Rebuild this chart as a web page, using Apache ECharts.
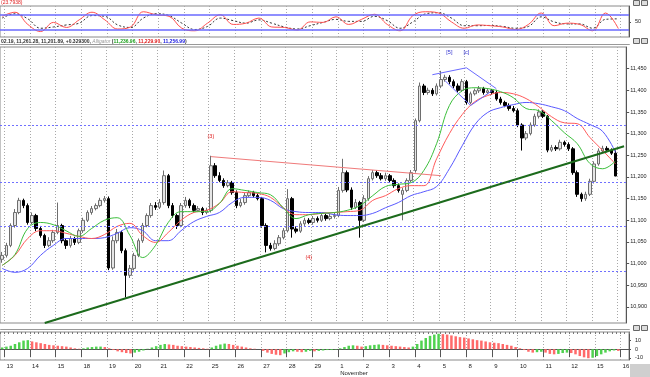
<!DOCTYPE html>
<html>
<head>
<meta charset="utf-8">
<script src="https://cdn.jsdelivr.net/npm/echarts@6/dist/echarts.min.js"></script>
<style>
html,body{margin:0;padding:0;background:#fff;}
#chart{width:650px;height:377px;}
</style>
</head>
<body>
<div id="chart"></div>
<script>
// trading days shown on the time axis (6 bars per day)
var tradingDays = ['13','14','15','18','19','20','21','22','25','26','27','28','29','1','2','3','4','5','8','9','10','11','12','15','16'];
var barsPerDay = 6;

// price bars, index 0 = last bar of the previous day
var opens = [11010,11019,11042,11088,11118,11146,11134,11095,11111,11081,11065,11042,11053,11072,11088,11053,11042,11058,11049,11076,
  11100,11118,11127,11134,11146,11150,10990,11053,11072,11030,10973,10989,11019,11053,11088,11111,11134,11130,11141,11203,
  11134,11111,11088,11134,11146,11134,11123,11127,11118,11123,11226,11203,11192,11180,11187,11164,11134,11141,11157,11164,
  11157,11150,11088,11042,11035,11046,11060,11076,11150,11080,11075,11092,11100,11095,11104,11100,11111,11104,11109,11111,
  11169,11210,11170,11130,11141,11100,11150,11196,11210,11203,11196,11203,11192,11180,11160,11169,11192,11215,11330,11410,
  11395,11400,11392,11410,11425,11430,11420,11410,11400,11420,11372,11392,11399,11404,11395,11399,11395,11380,11372,11365,
  11358,11353,11320,11290,11300,11320,11340,11350,11340,11262,11268,11265,11280,11275,11265,11210,11160,11150,11160,11190,
  11230,11260,11266,11262,11255];
var closes = [11019,11042,11088,11118,11146,11134,11095,11111,11081,11065,11042,11053,11072,11088,11053,11042,11058,11049,11076,11100,
  11118,11127,11134,11146,11150,10990,11053,11072,11030,10973,10989,11019,11053,11088,11111,11134,11130,11141,11203,11134,
  11111,11088,11134,11146,11134,11123,11127,11118,11123,11226,11203,11192,11180,11187,11164,11134,11141,11157,11164,11157,
  11150,11088,11042,11035,11046,11060,11076,11150,11080,11075,11092,11100,11095,11104,11100,11111,11104,11109,11111,11169,
  11210,11170,11130,11141,11100,11150,11196,11210,11203,11196,11203,11192,11180,11169,11169,11192,11210,11330,11410,11395,
  11400,11392,11410,11425,11430,11420,11410,11400,11420,11372,11392,11399,11404,11395,11399,11395,11380,11372,11365,11358,
  11353,11320,11290,11300,11320,11340,11350,11340,11262,11268,11265,11280,11275,11265,11210,11160,11150,11160,11190,11230,
  11260,11266,11262,11255,11202.19];
var lows = [11002,11014,11038,11083,11114,11128,11090,11091,11075,11060,11036,11038,11048,11068,11047,11034,11037,11043,11045,11071,
  11096,11113,11123,11130,11141,10985,10986,11047,11024,10922,10967,10984,11015,11048,11084,11106,11124,11126,11136,11128,
  11106,11080,11084,11129,11128,11118,11119,11112,11114,11118,11198,11188,11175,11176,11159,11128,11130,11136,11153,11152,
  11146,11083,11026,11030,11031,11041,11056,11072,11060,11070,11071,11087,11091,11090,11095,11096,11099,11100,11104,11107,
  11164,11165,11124,11126,11060,11096,11145,11192,11198,11192,11191,11188,11175,11164,11100,11165,11188,11210,11326,11389,
  11390,11387,11388,11405,11420,11414,11405,11395,11396,11367,11368,11388,11394,11390,11391,11390,11376,11367,11361,11353,
  11349,11315,11261,11285,11296,11316,11335,11336,11257,11258,11260,11261,11270,11260,11205,11154,11143,11145,11156,11185,
  11226,11256,11257,11251,11201.89];
var highs = [11027,11048,11093,11126,11152,11150,11139,11118,11115,11087,11069,11061,11078,11141,11092,11058,11064,11062,11081,11106,
  11123,11133,11139,11152,11156,11155,11063,11080,11076,11035,10997,11025,11058,11094,11116,11140,11142,11149,11215,11207,
  11140,11115,11140,11154,11150,11139,11133,11131,11129,11249,11232,11211,11197,11193,11191,11169,11149,11163,11169,11168,
  11162,11154,11093,11048,11054,11066,11082,11172,11154,11086,11098,11106,11105,11110,11109,11117,11115,11115,11118,11177,
  11242,11215,11176,11149,11145,11158,11202,11216,11215,11209,11210,11207,11197,11185,11175,11197,11216,11335,11418,11415,
  11406,11405,11416,11445,11436,11435,11425,11416,11426,11424,11397,11404,11410,11408,11405,11403,11401,11385,11376,11370,
  11364,11358,11324,11306,11326,11346,11356,11354,11343,11274,11273,11286,11284,11280,11269,11215,11164,11166,11196,11236,
  11266,11272,11271,11266,11261.28];

// Alligator lines, sampled every 3 bars (lips green, teeth red, jaw blue)
var maStep = 3;
var lips = [10996,11021,11081,11095,11090,11076,11063,11081,11100,11106,11065,11014,11042,11095,11120,11120,11120,11139,11173,11169,
  11164,11159,11129,11104,11113,11116,11118,11123,11134,11157,11178,11183,11187,11215,11277,11365,11399,11406,11404,11397,
  11383,11358,11353,11330,11302,11277,11231,11219,11236.96];
var teeth = [10996,11019,11058,11076,11076,11070,11063,11058,11067,11086,11093,11065,11049,11072,11100,11118,11123,11139,11166,11164,
  11162,11153,11129,11113,11113,11116,11118,11120,11123,11146,11157,11173,11180,11180,11242,11300,11344,11374,11388,11395,
  11392,11381,11362,11339,11325,11323,11291,11261,11229.90];
var jaw = [10989,10980,10989,11019,11042,11058,11058,11058,11060,11070,11083,11076,11053,11053,11076,11097,11109,11118,11141,11153,
  11153,11146,11127,11120,11118,11118,11113,11111,11111,11116,11129,11141,11157,11166,11178,11219,11272,11321,11349,11360,
  11367,11372,11369,11362,11353,11335,11321,11305,11256.99];

// stochastic oscillator (top panel), sampled every 3 bars
var stochFast = [72,88,40,12,48,28,58,88,58,22,30,90,78,72,25,15,45,78,40,45,65,30,28,18,50,48,70,40,60,80,
  40,15,75,90,85,50,25,38,35,30,20,40,85,35,45,40,15,85,23.79];
var stochSlow = [65,82,62,25,30,38,45,75,72,38,28,65,82,75,45,20,32,65,55,45,58,45,30,22,35,48,60,52,52,72,
  55,25,50,82,86,65,35,35,36,32,25,32,70,50,42,42,25,60,62];

// histogram oscillator (bottom panel), one value per bar
var osc = [2,3,4,6,8,10,10.5,9,8,7,6,5,4.5,4,3.5,3,2,1,0.5,1,
  2,2.5,3,3,2.5,1,-1,-2.5,-3.5,-4.5,-5,-4,-3,-1.5,0.5,2,3.5,5,6,5.5,
  5,4,3.5,3,2.5,2,1.5,1,0.5,2,4,5.5,6.5,6,5,4,3,2,1,0.5,
  0,-2,-4,-5.5,-6.5,-7,-5,-3.5,-2.5,-3,-3.5,-3,-2,-2.5,-2,-1.5,-1,-1,-0.5,1,
  2.5,4,4.5,4,3,3.5,4.5,5,5.5,5,4.5,4,3.5,3,2.5,2,3,6,10,13,
  15.5,17,18,17.5,17,16,15,14,13.5,12.5,11.5,10.5,10,9,8,7.5,7,6,5,4,
  2.5,1,-1,-3,-4,-3.5,-3,-4,-5.5,-6,-5.5,-4.5,-4,-4.5,-6,-8,-9.5,-10.5,-10,-8,
  -6,-4,-2.5,-1.5,-2];

var priceTicks = [10900,10950,11000,11050,11100,11150,11200,11250,11300,11350,11400,11450];
var levelLines = [11319,11189,11086,10982];

// categories
var cats = ['12'];
var dayAt = {};
tradingDays.forEach(function(d, k){
  var n = k === tradingDays.length - 1 ? 2 : barsPerDay;
  dayAt[cats.length] = { day: d, month: d === '1' ? 'November' : '' };
  for (var j = 0; j < n; j++) cats.push(d + '_' + j);
});
function isDayStart(i){ return dayAt[i] !== undefined; }

var candles = closes.map(function(c, i){ return [opens[i], c, lows[i], highs[i]]; });
function sampled(arr){ return arr.map(function(v, k){ return [Math.min(k * maStep, closes.length - 1), v]; }); }
var oscBars = osc.map(function(v, i){
  var up = i === 0 || v >= osc[i - 1];
  return { value: v, itemStyle: { color: up ? '#4fd24f' : '#ff6a6a' } };
});

var FONT = 'Liberation Sans';
var gridLine = { show: true, interval: function(i){ return isDayStart(i); }, lineStyle: { color: '#a8a8a8', type: [1, 2], width: 1 } };

function catAxis(g, extra){
  return Object.assign({
    type: 'category', gridIndex: g, data: cats, boundaryGap: true,
    axisLabel: { show: false }, axisTick: { show: false }, axisLine: { show: false },
    splitLine: gridLine
  }, extra || {});
}

var chart = echarts.init(document.getElementById('chart'), null, { renderer: 'canvas' });
var option = {
  animation: false,
  backgroundColor: '#ffffff',
  textStyle: { fontFamily: FONT },
  grid: [
    { left: -1.5, right: 21, top: 6, height: 31, show: true, borderColor: '#8a8a8a', borderWidth: 1 },
    { left: -1.5, right: 21, top: 47, height: 276, show: true, borderColor: '#8a8a8a', borderWidth: 1 },
    { left: -1.5, right: 21, top: 332, height: 31, show: true, borderColor: '#8a8a8a', borderWidth: 1 }
  ],
  xAxis: [
    catAxis(0),
    catAxis(1),
    catAxis(2, {
      axisLine: { show: true, lineStyle: { color: '#555' } },
      axisTick: { show: true, interval: function(i){ return isDayStart(i); }, length: 8, lineStyle: { color: '#555' } },
      axisLabel: {
        show: true, interval: function(i){ return isDayStart(i); }, align: 'left', margin: 3,
        fontSize: 6, color: '#222', lineHeight: 7, fontFamily: FONT,
        formatter: function(v, i){ var d = dayAt[i]; return d ? (d.month ? d.day + '\n' + d.month : d.day) : ''; }
      }
    }),
    catAxis(2, {
      splitLine: { show: false },
      axisTick: { show: true, interval: 0, length: 2, inside: true, lineStyle: { color: '#777' } }
    })
  ],
  yAxis: [
    { type: 'value', gridIndex: 0, position: 'right', min: -9.5, max: 112.6, splitLine: { show: false },
      axisLine: { show: true, lineStyle: { color: '#555' } },
      axisTick: { show: true, customValues: [50], length: 2 },
      axisLabel: { customValues: [50], fontSize: 5.5, color: '#222', margin: 6 } },
    { type: 'value', gridIndex: 1, position: 'right', min: 10863, max: 11500, scale: true, splitLine: { show: false },
      axisLine: { show: true, lineStyle: { color: '#555' } },
      axisTick: { show: true, customValues: priceTicks, length: 3 },
      axisLabel: { customValues: priceTicks, fontSize: 5.5, color: '#222', margin: 4 } },
    { type: 'value', gridIndex: 2, position: 'right', min: -12.6, max: 20, splitLine: { show: false },
      axisLine: { show: true, lineStyle: { color: '#555' } },
      axisTick: { show: true, customValues: [-10, 0, 10], length: 2 },
      axisLabel: { customValues: [-10, 0, 10], fontSize: 5.5, color: '#222', margin: 6 } }
  ],
  series: [
    { type: 'line', xAxisIndex: 0, yAxisIndex: 0, data: sampled(stochSlow), smooth: 0.4, showSymbol: false,
      lineStyle: { color: '#333', width: 1, type: [2, 2] },
      markLine: { silent: true, symbol: 'none', label: { show: false },
        lineStyle: { color: '#6a6aff', width: 1.5, type: 'solid' },
        data: [{ yAxis: 80 }, { yAxis: 20 }] } },
    { type: 'line', xAxisIndex: 0, yAxisIndex: 0, data: sampled(stochFast), smooth: 0.4, showSymbol: false,
      lineStyle: { color: '#ff5050', width: 1 } },

    { type: 'candlestick', xAxisIndex: 1, yAxisIndex: 1, data: candles, barWidth: 3,
      itemStyle: { color: '#e6e6e6', color0: '#000000', borderColor: '#6e6e6e', borderColor0: '#000000', borderWidth: 1 },
      markLine: { silent: true, symbol: 'none', label: { show: false }, lineStyle: { color: '#7070ff', type: [2, 2], width: 1 },
        data: levelLines.map(function(v){ return { yAxis: v }; }) } },
    { type: 'line', xAxisIndex: 1, yAxisIndex: 1, data: sampled(jaw), smooth: 0.4, showSymbol: false, lineStyle: { color: '#5a5aff', width: 1 } },
    { type: 'line', xAxisIndex: 1, yAxisIndex: 1, data: sampled(teeth), smooth: 0.4, showSymbol: false, lineStyle: { color: '#ff5a5a', width: 1 } },
    { type: 'line', xAxisIndex: 1, yAxisIndex: 1, data: sampled(lips), smooth: 0.4, showSymbol: false, lineStyle: { color: '#3cbf3c', width: 1 },
      markLine: { silent: true, symbol: 'none', label: { show: false },
        data: [
          [{ coord: [10, 10863], lineStyle: { color: '#1c6b1c', width: 2, type: 'solid' } }, { coord: [146, 11271] }],
          [{ coord: [49, 11247], lineStyle: { color: '#f07a7a', width: 1, type: 'solid' } }, { coord: [103, 11203] }],
          [{ coord: [101, 11436], lineStyle: { color: '#6a6aff', width: 1, type: 'solid' } }, { coord: [109, 11452] }],
          [{ coord: [109, 11452], lineStyle: { color: '#6a6aff', width: 1, type: 'solid' } }, { coord: [116, 11404] }],
          [{ coord: [104, 11422], lineStyle: { color: '#6a6aff', width: 1, type: 'solid' } }, { coord: [110, 11365] }],
          [{ coord: [110, 11365], lineStyle: { color: '#6a6aff', width: 1, type: 'solid' } }, { coord: [115, 11399] }]
        ] },
      markPoint: { silent: true, symbol: 'circle', symbolSize: 0,
        label: { show: true, fontSize: 5.5, fontFamily: FONT, formatter: function(p){ return p.name; } },
        data: [
          { name: '(3)', coord: [49, 11293], label: { color: '#e02020' } },
          { name: '(4)', coord: [72, 11014], label: { color: '#e02020' } },
          { name: '[5]', coord: [105, 11487], label: { color: '#3030d0' } },
          { name: '[c]', coord: [109, 11487], label: { color: '#3030d0' } }
        ] } },

    { type: 'bar', xAxisIndex: 2, yAxisIndex: 2, data: oscBars, barWidth: 2.5 }
  ],
  graphic: [
    { type: 'text', left: 1, top: 0, style: { text: '(23.7938)', fill: '#e02020', font: '5px ' + FONT } },
    { type: 'text', left: 1, top: 39, style: {
      rich: {
        k: { fill: '#333', font: 'bold 5px ' + FONT },
        s: { fill: '#999', font: 'italic 5px ' + FONT },
        g: { fill: '#1fa01f', font: 'bold 5px ' + FONT },
        r: { fill: '#e02020', font: 'bold 5px ' + FONT },
        b: { fill: '#2020e0', font: 'bold 5px ' + FONT }
      },
      text: '{k|02.19, 11,261.28, 11,201.89, +0.329300, }{s|Alligator }{k|(}{g|11,236.96}{k|, }{r|11,229.90}{k|, }{b|11,256.99}{k|)}'
    } },
    { type: 'rect', left: 0, top: 44, shape: { width: 629, height: 0 }, style: { stroke: '#999', lineWidth: 1 } },
    { type: 'rect', left: 0, top: 329, shape: { width: 629, height: 0 }, style: { stroke: '#999', lineWidth: 1 } },
    { type: 'rect', left: 633, top: 0, shape: { width: 6, height: 5 }, style: { fill: '#ddd', stroke: '#666', lineWidth: 1 } },
    { type: 'rect', left: 641, top: 0, shape: { width: 6, height: 5 }, style: { fill: '#ddd', stroke: '#666', lineWidth: 1 } },
    { type: 'rect', left: 633, top: 38, shape: { width: 6, height: 5 }, style: { fill: '#ddd', stroke: '#666', lineWidth: 1 } },
    { type: 'rect', left: 641, top: 38, shape: { width: 6, height: 5 }, style: { fill: '#ddd', stroke: '#666', lineWidth: 1 } },
    { type: 'rect', left: 633, top: 325, shape: { width: 6, height: 5 }, style: { fill: '#ddd', stroke: '#666', lineWidth: 1 } },
    { type: 'rect', left: 641, top: 325, shape: { width: 6, height: 5 }, style: { fill: '#ddd', stroke: '#666', lineWidth: 1 } },
    { type: 'rect', left: 630, top: 364, shape: { width: 20, height: 13 }, style: { fill: '#cfcfcf' } }
  ]
};
chart.setOption(option);
</script>
</body>
</html>
